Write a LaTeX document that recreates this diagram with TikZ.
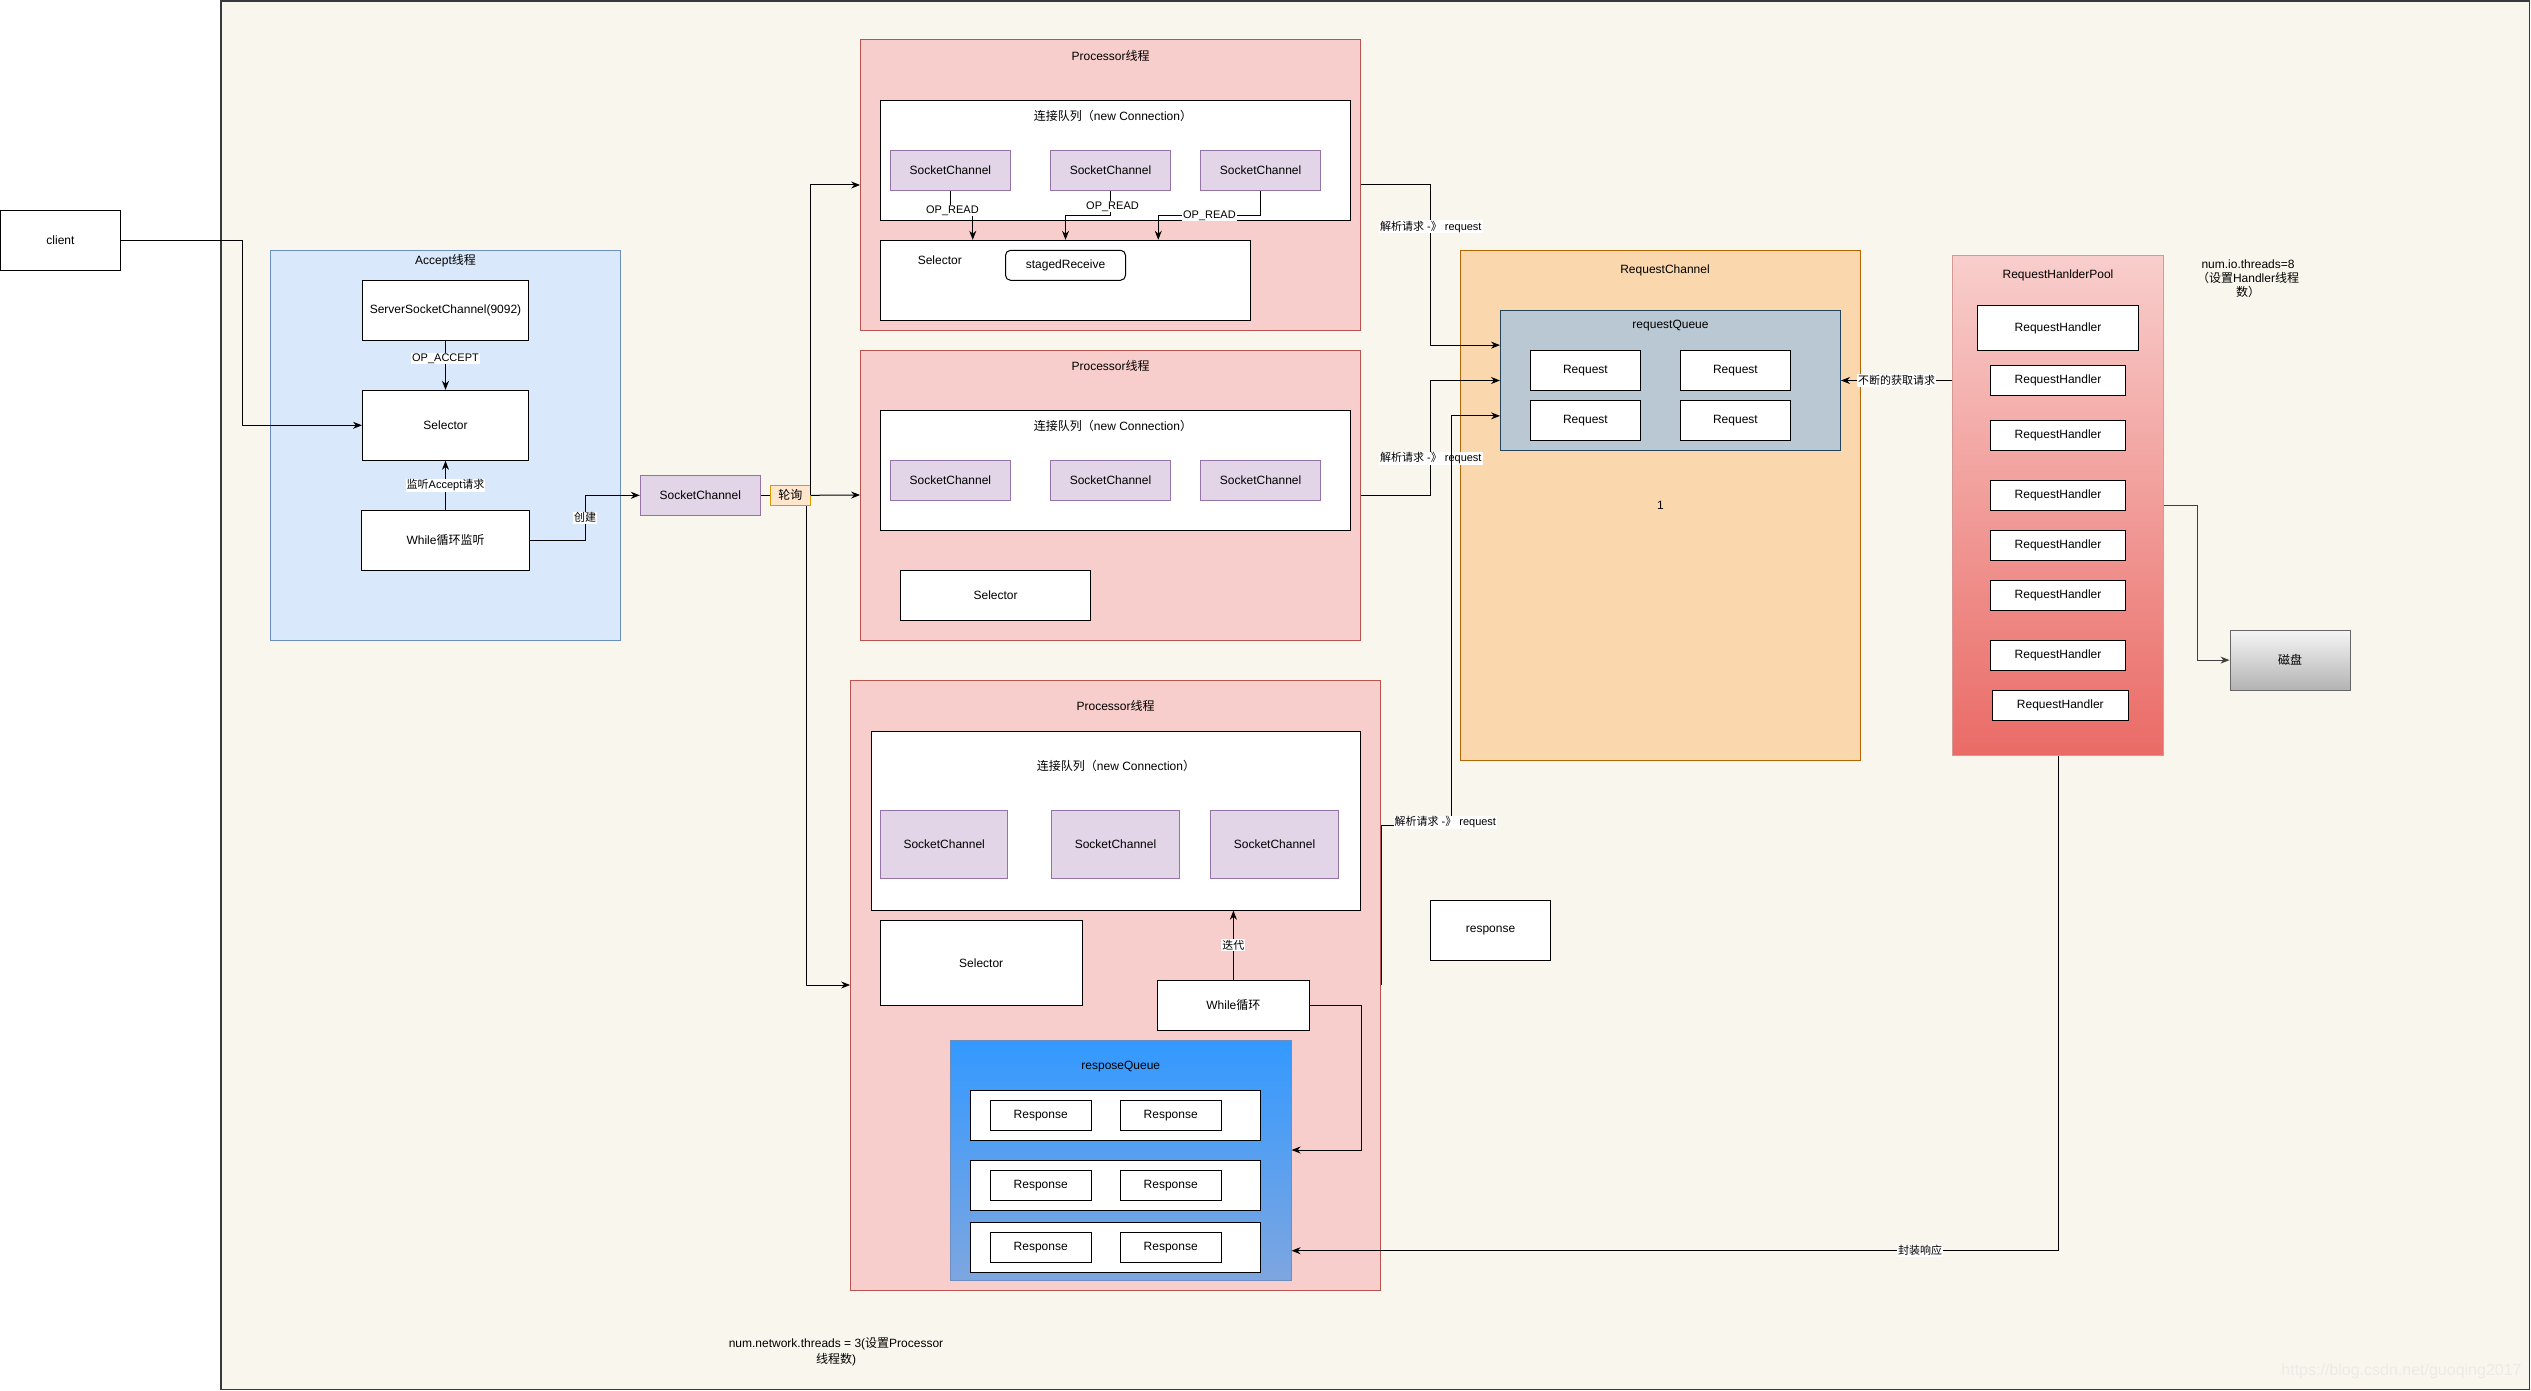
\documentclass[tikz,border=0pt]{standalone}
\usepackage{fontspec}
\setmainfont{Liberation Sans}
\newfontfamily\cjk{Noto Sans CJK SC}
\newcommand{\hanzi}[1]{{\cjk #1}}
\usepackage{tikz}
\usetikzlibrary{arrows.meta,positioning,calc}
\definecolor{bg-page}{HTML}{F9F7ED}
\definecolor{bg-line}{HTML}{36393D}
\definecolor{acc-fill}{HTML}{DAE8FC}
\definecolor{acc-line}{HTML}{6C8EBF}
\definecolor{proc-fill}{HTML}{F8CECC}
\definecolor{proc-line}{HTML}{B85450}
\definecolor{sock-fill}{HTML}{E1D5E7}
\definecolor{sock-line}{HTML}{9673A6}
\definecolor{poll-fill}{HTML}{FFE6CC}
\definecolor{poll-line}{HTML}{D79B00}
\definecolor{chan-fill}{HTML}{FAD7AC}
\definecolor{chan-line}{HTML}{B46504}
\definecolor{queue-fill}{HTML}{BAC8D3}
\definecolor{queue-line}{HTML}{23445D}
\definecolor{pool-bot}{HTML}{EA6B66}
\definecolor{resp-top}{HTML}{3399FF}
\definecolor{resp-bot}{HTML}{7EA6E0}
\definecolor{disk-top}{HTML}{F5F5F5}
\definecolor{disk-bot}{HTML}{B3B3B3}

\begin{document}
\begin{tikzpicture}[x=1pt,y=-1pt,
  txt/.style={font=\fontsize{12}{14}\selectfont},
  lbl/.style={font=\fontsize{11}{13}\selectfont,fill=white,inner sep=1pt},
  sz/.style 2 args={minimum width=#1pt,minimum height=#2pt},
  wbox/.style={draw,fill=white,line width=1pt,inner sep=0pt,txt},
  sock/.style={wbox,fill=sock-fill,draw=sock-line},
  grp/.style={draw,line width=1pt,inner sep=0pt,txt},
  arr/.style={-{Stealth[length=9pt,width=7pt]},line width=1pt},
  ln/.style={line width=1pt}]
  \useasboundingbox (0,0) rectangle (2531,1391);
  \draw[fill=bg-page,draw=bg-line,line width=1.5pt] (221,0.8) rectangle (2529.5,1389.3);
  \node[wbox,sz={120}{60}] (client) at (60.5,240.3) {client};

  % accept thread
  \node[grp,fill=acc-fill,draw=acc-line,sz={350}{390}] (accept) at (445.5,445.3) {};
  \node[txt] (acceptT) at (445.5,261) {Accept\hanzi{线程}};
  \node[wbox,sz={166}{60}] (ssc) at (445.5,310.3) {ServerSocketChannel(9092)};
  \node[wbox,sz={166}{70}] (sel0) at (445.5,425.3) {Selector};
  \node[wbox,sz={168}{60}] (loop0) at (445.5,540.3) {While\hanzi{循环监听}};
  \node[sock,sz={120}{40}] (sc0) at (700.3,495.3) {SocketChannel};
  \node[draw=poll-line,fill=poll-fill,line width=1pt,inner sep=0pt,txt,sz={40}{20}] (poll) at (790.3,495.3) {\hanzi{轮询}};

  % processor 1
  \node[grp,fill=proc-fill,draw=proc-line,sz={500}{290}] (proc1) at (1110.6,185) {};
  \node[txt] (proc1T) at (1110.6,55.7) {Processor\hanzi{线程}};
  \node[wbox,sz={470}{120}] (conn1) at (1115.5,160.3) {};
  \node[txt] (conn1T) at (1113,115.7) {\hanzi{连接队列（}new Connection\hanzi{）}};
  \node[sock,sz={120}{40}] (sc11) at (950.4,170.5) {SocketChannel};
  \node[sock,sz={120}{40}] (sc12) at (1110.5,170.5) {SocketChannel};
  \node[sock,sz={120}{40}] (sc13) at (1260.6,170.5) {SocketChannel};
  \node[wbox,sz={370}{80}] (sel1) at (1065.5,280.3) {};
  \node[txt] (sel1T) at (939.8,260.7) {Selector};
  \node[wbox,rounded corners=5pt,sz={120}{30}] (staged) at (1065.5,265.3) {stagedReceive};

  % processor 2
  \node[grp,fill=proc-fill,draw=proc-line,sz={500}{290}] (proc2) at (1110.6,495) {};
  \node[txt] (proc2T) at (1110.6,365.7) {Processor\hanzi{线程}};
  \node[wbox,sz={470}{120}] (conn2) at (1115.5,470.3) {};
  \node[txt] (conn2T) at (1113,425.7) {\hanzi{连接队列（}new Connection\hanzi{）}};
  \node[sock,sz={120}{40}] (sc21) at (950.4,480.5) {SocketChannel};
  \node[sock,sz={120}{40}] (sc22) at (1110.5,480.5) {SocketChannel};
  \node[sock,sz={120}{40}] (sc23) at (1260.6,480.5) {SocketChannel};
  \node[wbox,sz={190}{50}] (sel2) at (995.6,595.3) {Selector};

  % processor 3
  \node[grp,fill=proc-fill,draw=proc-line,sz={530}{610}] (proc3) at (1115.6,985) {};
  \node[txt] (proc3T) at (1115.6,705.7) {Processor\hanzi{线程}};
  \node[wbox,sz={489}{179}] (conn3) at (1116,820.7) {};
  \node[txt] (conn3T) at (1116,765.7) {\hanzi{连接队列（}new Connection\hanzi{）}};
  \node[sock,sz={127.5}{68}] (sc31) at (944.2,844.3) {SocketChannel};
  \node[sock,sz={127.5}{68}] (sc32) at (1115.5,844.3) {SocketChannel};
  \node[sock,sz={127.5}{68}] (sc33) at (1274.5,844.3) {SocketChannel};
  \node[wbox,sz={201.6}{84.7}] (sel3) at (981.2,962.7) {Selector};
  \node[wbox,sz={152}{50}] (loop3) at (1233.4,1005.3) {While\hanzi{循环}};
  \node[grp,top color=resp-top,bottom color=resp-bot,draw=acc-line,sz={340.5}{240}] (respq) at (1120.8,1160.2) {};
  \node[txt] (respqT) at (1120.8,1066.7) {resposeQueue};
  \node[wbox,sz={290.4}{50}] (row1) at (1115.5,1115.3) {};
  \node[wbox,sz={290.4}{50}] (row2) at (1115.5,1185.3) {};
  \node[wbox,sz={290.4}{50}] (row3) at (1115.5,1247.2) {};
  \node[wbox,sz={100.7}{30}] (r11) at (1040.7,1115.3) {Response};
  \node[wbox,sz={100.7}{30}] (r12) at (1170.7,1115.3) {Response};
  \node[wbox,sz={100.7}{30}] (r21) at (1040.7,1185.3) {Response};
  \node[wbox,sz={100.7}{30}] (r22) at (1170.7,1185.3) {Response};
  \node[wbox,sz={100.7}{30}] (r31) at (1040.7,1247.2) {Response};
  \node[wbox,sz={100.7}{30}] (r32) at (1170.7,1247.2) {Response};

  % request channel
  \node[grp,fill=chan-fill,draw=chan-line,sz={400}{510.5}] (chan) at (1660.4,505.4) {1};
  \node[txt] (chanT) at (1665,270.8) {RequestChannel};
  \node[grp,fill=queue-fill,draw=queue-line,sz={340}{140.5}] (rq) at (1670.5,380.5) {};
  \node[txt] (rqT) at (1670.5,325.5) {requestQueue};
  \node[wbox,sz={110}{40}] (req1) at (1585.4,370.5) {Request};
  \node[wbox,sz={110}{40}] (req2) at (1735.4,370.5) {Request};
  \node[wbox,sz={110}{40}] (req3) at (1585.4,420.6) {Request};
  \node[wbox,sz={110}{40}] (req4) at (1735.4,420.6) {Request};

  % handler pool
  \node[grp,top color=proc-fill,bottom color=pool-bot,draw=proc-line!60,sz={210.6}{500}] (pool) at (2058,505.4) {};
  \node[txt] (poolT) at (2058,275.6) {RequestHanlderPool};
  \node[wbox,sz={160.6}{45}] (rh1) at (2058,327.9) {RequestHandler};
  \node[wbox,sz={135.4}{30}] (rh2) at (2058,380.3) {RequestHandler};
  \node[wbox,sz={135.4}{30}] (rh3) at (2058,435.4) {RequestHandler};
  \node[wbox,sz={135.4}{30}] (rh4) at (2058,495.4) {RequestHandler};
  \node[wbox,sz={135.4}{30}] (rh5) at (2058,545.3) {RequestHandler};
  \node[wbox,sz={135.4}{30}] (rh6) at (2058,595.3) {RequestHandler};
  \node[wbox,sz={135.4}{30}] (rh7) at (2058,655.3) {RequestHandler};
  \node[wbox,sz={136}{30}] (rh8) at (2060.3,705.3) {RequestHandler};
  \node[txt,align=center] (ioT) at (2248,278.4) {num.io.threads=8\\\hanzi{（设置}Handler\hanzi{线程}\\\hanzi{数）}};
  \node[grp,top color=disk-top,bottom color=disk-bot,draw=black!60,sz={120}{60}] (disk) at (2290,660.1) {\hanzi{磁盘}};
  \node[wbox,sz={120}{60}] (resp) at (1490.5,930.3) {response};
  \node[txt,align=center,font=\fontsize{12}{16}\selectfont] (netT) at (836,1352) {num.network.threads = 3(\hanzi{设置}Processor\\\hanzi{线程数})};
  \node[font=\fontsize{16}{18}\selectfont,text=bg-page!82!black!40] (mark) at (2401.5,1371.7) {https://blog.csdn.net/guoqing2017};

  % connectors
  \draw[arr] (client.east) -- ++(121,0) |- (sel0.west);
  \draw[arr] (ssc.south) -- node[lbl,pos=0.36]{OP\_ACCEPT} (sel0.north);
  \draw[arr] (loop0.north) -- node[lbl]{\hanzi{监听}Accept\hanzi{请求}} (sel0.south);
  \draw[arr] (loop0.east) -- ++(55.2,0) |- node[lbl,pos=0.25]{\hanzi{创建}} (sc0.west);
  \draw[ln] (sc0.east) -- (poll.west);
  \draw[arr] (poll.east) |- (proc1.west);
  \draw[arr] (poll.east) -- (proc2.west);
  \draw[arr] ([xshift=-4pt]poll.south east) |- (proc3.west);

  \draw[arr] (sc11.south) -- ++(0,24.5) node[lbl,xshift=2pt,yshift=5pt]{OP\_READ} -| ($(sel1.north west)!0.25!(sel1.north east)$);
  \draw[arr] (sc12.south) -- ++(0,24.5) node[lbl,xshift=2pt,yshift=9pt]{OP\_READ} -| (sel1.north);
  \draw[arr] (sc13.south) -- ++(0,24.5) -| node[lbl,pos=0.25]{OP\_READ} ($(sel1.north west)!0.75!(sel1.north east)$);

  \draw[arr] (proc1.east) -- ++(69.7,0) |- node[lbl,pos=0.13]{\hanzi{解析请求} -\hanzi{》} request} ($(rq.north west)!0.25!(rq.south west)$);
  \draw[arr] (proc2.east) -- ++(69.7,0) |- node[lbl,pos=0.16]{\hanzi{解析请求} -\hanzi{》} request} (rq.west);
  \draw[arr] (proc3.east) -- ++(0,-159.7) -- ++(69.9,0) node[lbl,xshift=-5.7pt,yshift=3pt]{\hanzi{解析请求} -\hanzi{》} request} |- ($(rq.north west)!0.75!(rq.south west)$);
  \draw[arr] (pool.west |- rq.east) -- node[lbl]{\hanzi{不断的获取请求}} (rq.east);
  \draw[arr,draw=black!75] (pool.east) -- ++(33.4,0) |- (disk.west);
  \draw[arr] (pool.south) |- node[lbl,pos=0.59]{\hanzi{封装响应}} ($(respq.south east)+(0,-30)$);
  \draw[arr] (loop3.north) -- node[lbl]{\hanzi{迭代}} (loop3.north |- conn3.south);
  \draw[arr] (loop3.east) -- ++(51.3,0) |- ($(respq.north east)+(0,110.3)$);
\end{tikzpicture}
\end{document}
